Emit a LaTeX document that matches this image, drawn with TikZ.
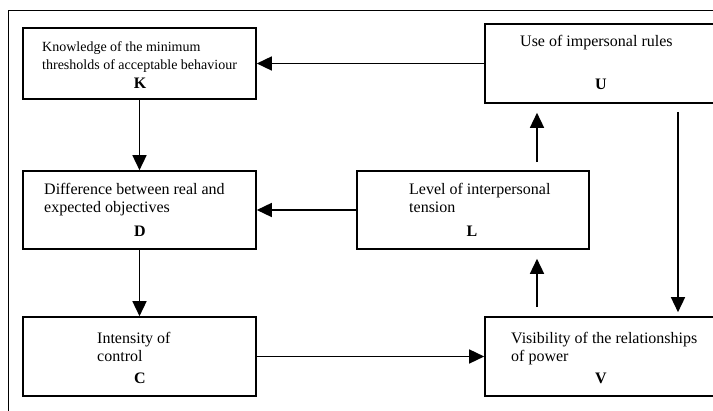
\documentclass[tikz,border=0pt]{standalone}
\usepackage{fontspec}
\setmainfont{Liberation Serif}
\usetikzlibrary{arrows.meta}

\tikzset{
  box/.style={draw, line width=1.6pt, inner sep=0pt},
  txt/.style={inner sep=0pt, anchor=base west, align=left,
    font=\fontsize{16}{18.5}\selectfont},
  small/.style={font=\fontsize{14}{18}\selectfont},
  lbl/.style={inner sep=0pt, anchor=base, font=\fontsize{16}{19}\selectfont\bfseries},
  arr/.style={line width=1.5pt, -{Triangle[length=15pt,width=14pt]}},
}

\begin{document}
\begin{tikzpicture}[x=1pt,y=-1pt]
        \useasboundingbox (0,0) rectangle (713,411);
        \clip (0,0) rectangle (713,411);

        % outer frame (cut off at right and bottom)
        \draw[line width=0.8pt] (8,430) -- (8,10) -- (730,10);

        % boxes
        \node[box, minimum width=233pt, minimum height=71pt] (K) at (139.5,63.5) {};
        \node[box, minimum width=235pt, minimum height=79pt] (U) at (602.5,63.5) {};
        \node[box, minimum width=233pt, minimum height=78pt] (D) at (139.5,210) {};
        \node[box, minimum width=232pt, minimum height=78pt] (L) at (473,210) {};
        \node[box, minimum width=233pt, minimum height=79pt] (C) at (139.5,356.5) {};
        \node[box, minimum width=235pt, minimum height=79pt] (V) at (602.5,356.5) {};

        % texts (base = baseline of the last line)
        \node[txt, small] (Kt) at (42,70) {Knowledge of the minimum\\thresholds of acceptable behaviour};
        \node[lbl] (Kl) at (140,89) {K};
        \node[txt] (Ut) at (520,47) {Use of impersonal rules};
        \node[lbl] (Ul) at (601,90) {U};
        \node[txt] (Dt) at (44,213) {Difference between real and\\expected objectives};
        \node[lbl] (Dl) at (140,237) {D};
        \node[txt] (Lt) at (409,213) {Level of interpersonal\\tension};
        \node[lbl] (Ll) at (472,237) {L};
        \node[txt] (Ct) at (97,362) {Intensity of\\control};
        \node[lbl] (Cl) at (140,384) {C};
        \node[txt] (Vt) at (511,362) {Visibility of the relationships\\of power};
        \node[lbl] (Vl) at (601,384) {V};

        % columns of the vertical arrows on the right
        \coordinate (mid) at (537,0);
        \coordinate (rcol) at (678,0);

        % arrows
        \draw[arr] (U.west) -- (K.east);
        \draw[arr] (K.south) -- (D.north);
        \draw[arr] (L.west) -- (D.east);
        \draw[arr] (D.south) -- (C.north);
        \draw[arr] (C.east) -- (V.west);
        \draw[arr, shorten <=9pt, shorten >=9pt] (V.north -| mid) -- (L.south -| mid);
        \draw[arr, shorten <=8pt, shorten >=9pt] (L.north -| mid) -- (U.south -| mid);
        \draw[arr, shorten <=8pt, shorten >=4pt] (U.south -| rcol) -- (V.north -| rcol);
\end{tikzpicture}
\end{document}
